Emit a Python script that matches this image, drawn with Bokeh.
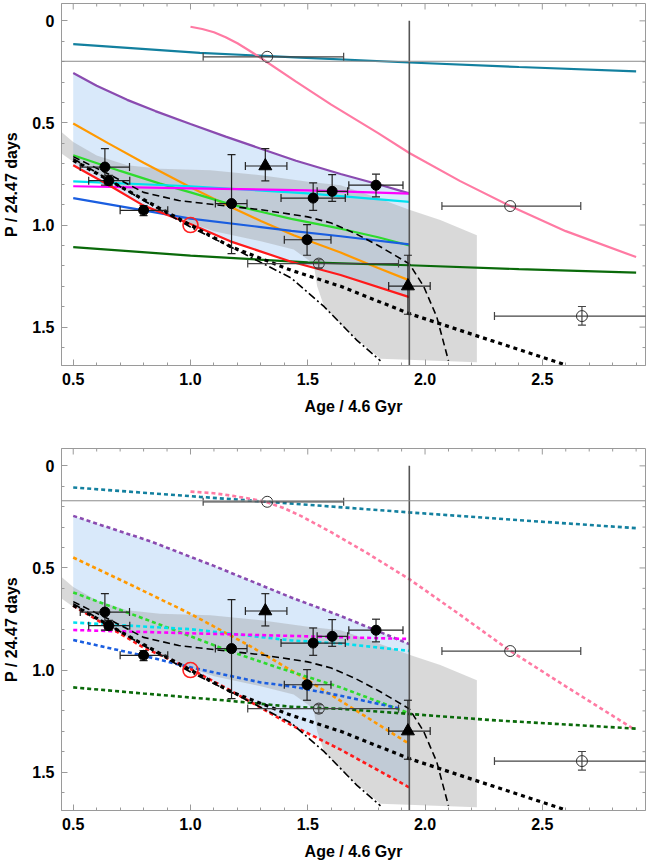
from bokeh.plotting import figure
from bokeh.layouts import column
from bokeh.models import (Range1d, SingleIntervalTicker, Span, PrintfTickFormatter)
from bokeh.embed import file_html
from bokeh.resources import INLINE
import math

# ---------------- data ----------------
# filled circles (stars with rotation periods)
obs_age = [0.635, 0.652, 0.80, 1.175, 1.523, 1.604, 1.791, 1.497]
obs_p = [0.716, 0.783, 0.928, 0.895, 0.868, 0.835, 0.805, 1.072]
obs_age_lo = [0.53, 0.566, 0.70, 1.106, 1.386, 1.54, 1.675, 1.40]
obs_age_hi = [0.74, 0.741, 0.903, 1.241, 1.66, 1.67, 1.906, 1.599]
obs_p_lo = [0.626, 0.757, 0.905, 0.655, 0.794, 0.753, 0.751, 0.998]
obs_p_hi = [0.805, 0.805, 0.954, 1.14, 0.928, 0.884, 0.862, 1.148]

# filled triangles
tri_age = [1.319, 1.927]
tri_p = [0.711, 1.299]
tri_age_lo = [1.234, 1.845]
tri_age_hi = [1.411, 2.022]
tri_p_lo = [0.626, 1.148]
tri_p_hi = [0.784, 1.437]

# open circles
open_age = [1.327, 2.363, 1.547, 2.669]
open_p = [0.176, 0.907, 1.189, 1.446]
open_age_lo = [1.054, 2.072, 1.244, 2.296]
open_age_hi = [1.653, 2.664, 1.887, 3.04]
open_p_lo = [None, None, 1.17, 1.399]
open_p_hi = [None, None, 1.21, 1.49]

# the Sun
sun_age = [1.0]
sun_p = [1.0]

vline_age = 1.933
hline_top = 0.198
hline_bottom = 0.171

# ---- model curves, top panel (solid) ----
teal_x = [0.5, 1.04, 1.47, 1.933, 2.4, 2.9]
teal_y = [0.114, 0.157, 0.18, 0.204, 0.226, 0.247]
pink_x = [1.0, 1.05, 1.1, 1.15, 1.2, 1.25, 1.3, 1.45, 1.6, 1.8, 1.933, 2.15, 2.363, 2.6, 2.9]
pink_y = [0.029, 0.040, 0.056, 0.080, 0.110, 0.145, 0.182, 0.298, 0.41, 0.55, 0.647, 0.785,
          0.907, 1.03, 1.157]
purple_x = [0.5, 0.6, 0.73, 0.85, 1.0, 1.15, 1.3, 1.45, 1.64, 1.8, 1.933]
purple_y = [0.255, 0.318, 0.387, 0.442, 0.505, 0.567, 0.626, 0.685, 0.75, 0.80, 0.845]
orange_x = [0.5, 0.65, 0.8, 1.0, 1.16, 1.3, 1.44, 1.64, 1.8, 1.933]
orange_y = [0.503, 0.60, 0.695, 0.815, 0.905, 0.98, 1.05, 1.135, 1.21, 1.271]
green_x = [0.5, 0.7, 0.87, 1.0, 1.16, 1.3, 1.43, 1.64, 1.8, 1.933]
green_y = [0.658, 0.735, 0.797, 0.84, 0.895, 0.935, 0.97, 1.018, 1.06, 1.10]
blue_x = [0.5, 0.8, 1.0, 1.3, 1.43, 1.64, 1.933]
blue_y = [0.868, 0.928, 0.969, 1.01, 1.029, 1.055, 1.095]
cyan_x = [0.5, 1.0, 1.5, 1.933]
cyan_y = [0.786, 0.81, 0.845, 0.887]
magenta_x = [0.5, 1.0, 1.5, 1.933]
magenta_y = [0.81, 0.82, 0.83, 0.846]
red_x = [0.5, 0.66, 0.8, 1.0, 1.17, 1.43, 1.64, 1.933]
red_y = [0.707, 0.81, 0.905, 0.995, 1.08, 1.18, 1.245, 1.353]
dkgreen_x = [0.5, 1.0, 1.5, 1.933, 2.4, 2.9]
dkgreen_y = [1.108, 1.15, 1.183, 1.197, 1.216, 1.233]

# ---- model curves, bottom panel (dotted) ----
teal2_x = [0.5, 1.04, 1.47, 1.933, 2.4, 2.9]
teal2_y = [0.106, 0.152, 0.188, 0.228, 0.266, 0.305]
pink2_x = [1.0, 1.1, 1.18, 1.26, 1.33, 1.4, 1.47, 1.6, 1.75, 1.933, 2.15, 2.363, 2.6, 2.89]
pink2_y = [0.126, 0.134, 0.147, 0.162, 0.18, 0.208, 0.245, 0.325, 0.425, 0.555, 0.73, 0.906,
           1.08, 1.289]
purple2_x = [0.5, 0.83, 1.1, 1.43, 1.64, 1.933]
purple2_y = [0.245, 0.37, 0.49, 0.645, 0.735, 0.873]
orange2_x = [0.5, 0.75, 1.0, 1.25, 1.5, 1.75, 1.933]
orange2_y = [0.449, 0.585, 0.725, 0.88, 1.05, 1.23, 1.362]
green2_x = [0.5, 0.73, 0.94, 1.16, 1.37, 1.64, 1.933]
green2_y = [0.62, 0.718, 0.808, 0.905, 0.987, 1.085, 1.212]
blue2_x = [0.5, 0.8, 1.0, 1.3, 1.43, 1.64, 1.9]
blue2_y = [0.853, 0.93, 0.987, 1.061, 1.08, 1.126, 1.19]
cyan2_x = [0.5, 1.0, 1.43, 1.64, 1.933]
cyan2_y = [0.767, 0.80, 0.855, 0.87, 0.906]
magenta2_x = [0.5, 1.0, 1.5, 1.933]
magenta2_y = [0.804, 0.82, 0.835, 0.848]
red2_x = [0.5, 0.8, 1.0, 1.17, 1.43, 1.64, 1.933]
red2_y = [0.685, 0.89, 0.995, 1.10, 1.27, 1.39, 1.575]
dkgreen2_x = [0.5, 0.8, 1.16, 1.43, 1.64, 1.933, 2.28, 2.9]
dkgreen2_y = [1.085, 1.115, 1.15, 1.18, 1.19, 1.215, 1.245, 1.287]

# ---- black reference curves (both panels) ----
dash_x = [0.5, 0.65, 0.8, 0.95, 1.1, 1.3, 1.5, 1.6, 1.7, 1.8, 1.933, 1.994, 2.05, 2.1]
dash_y = [0.665, 0.75, 0.84, 0.88, 0.90, 0.925, 0.96, 0.99, 1.04, 1.10, 1.19, 1.30, 1.45, 1.665]
dot_x = [0.5, 0.8, 1.0, 1.17, 1.43, 1.64, 1.933, 2.28, 2.6]
dot_y = [0.683, 0.875, 1.0, 1.105, 1.222, 1.30, 1.434, 1.565, 1.685]
dashdot_x = [0.5, 0.8, 1.0, 1.2, 1.43, 1.57, 1.71, 1.81]
dashdot_y = [0.675, 0.88, 1.01, 1.124, 1.26, 1.40, 1.565, 1.665]

# ---- grey uncertainty region ----
gray_x = [0.45, 0.5, 0.6, 0.73, 0.87, 1.085, 1.3, 1.51, 1.64, 1.78, 1.933, 2.065, 2.221,
          2.221, 1.81, 1.67, 1.57, 1.54, 1.525, 1.44, 1.3, 1.1, 1.0, 0.8, 0.6, 0.5, 0.45]
gray_y = [0.544, 0.593, 0.66, 0.707, 0.724, 0.732, 0.756, 0.789, 0.805, 0.86, 0.925, 0.975, 1.05,
          1.672, 1.655, 1.52, 1.40, 1.30, 1.19, 1.12, 1.08, 1.03, 0.99, 0.88, 0.75, 0.69, 0.65]

# ---------------- style ----------------
FONT = "Liberation Sans"
FRAME = "#9a9a9a"
C = dict(teal="#13809f", pink="#ff7aa3", purple="#8a4bb0", orange="#ff9900",
         green="#2edb2e", blue="#1a5ee0", cyan="#00e0f0", magenta="#ff00ff",
         red="#ff1a1a", dkgreen="#0a6a0a")

X_RANGE = (0.45, 2.94)
Y_RANGE = (1.688, -0.085)
FRAME_W = 646 - 61 - 1
FRAME_H = 362
DX_PX = (X_RANGE[1] - X_RANGE[0]) / FRAME_W
DY_PX = (Y_RANGE[0] - Y_RANGE[1]) / FRAME_H
X_TICKS = [round(0.5 + 0.1 * i, 2) for i in range(25)]
Y_TICKS = [round(0.1 * i, 2) for i in range(17)]


def style_axis(ax):
    ax.ticker = SingleIntervalTicker(interval=0.5, num_minor_ticks=5)
    ax.axis_line_color = FRAME
    ax.major_tick_line_color = FRAME
    ax.minor_tick_line_color = FRAME
    ax.major_tick_in = 6
    ax.major_tick_out = 0
    ax.minor_tick_in = 3
    ax.minor_tick_out = 0
    ax.major_label_text_font = FONT
    ax.major_label_text_font_size = "16px"
    ax.major_label_text_font_style = "bold"
    ax.major_label_text_color = "black"
    ax.axis_label_text_font = FONT
    ax.axis_label_text_font_size = "16px"
    ax.axis_label_text_font_style = "bold"
    ax.axis_label_text_color = "black"
    ax.formatter = PrintfTickFormatter(format="%.1f")


def make_panel(height, top_border, bottom_border, curves, style, band_upper, band_lower, hline):
    p = figure(width=646, height=height, output_backend="svg", toolbar_location=None,
               x_range=Range1d(*X_RANGE), y_range=Range1d(*Y_RANGE),
               min_border_left=61, min_border_right=1, min_border_top=top_border,
               min_border_bottom=bottom_border)
    p.xgrid.visible = False
    p.ygrid.visible = False
    p.outline_line_color = FRAME
    p.background_fill_color = "white"

    style_axis(p.xaxis[0])
    style_axis(p.yaxis[0])
    p.xaxis[0].axis_label = "Age / 4.6 Gyr"
    p.yaxis[0].axis_label = "P / 24.47 days"
    p.xaxis[0].major_label_standoff = 7
    p.xaxis[0].axis_label_standoff = 10
    p.yaxis[0].major_label_standoff = 7
    p.yaxis[0].axis_label_standoff = 9
    p.yaxis[0].major_label_overrides = {0: "0"}

    # inward ticks on the top and right frame edges
    tx, ty0, ty1 = [], [], []
    for t in X_TICKS:
        major = abs(t * 2 - round(t * 2)) < 1e-6
        tx.append(t)
        ty0.append(Y_RANGE[1])
        ty1.append(Y_RANGE[1] + (6 if major else 3) * DY_PX)
    p.segment(x0=tx, y0=ty0, x1=tx, y1=ty1, line_color=FRAME, line_width=1)
    ry, rx0, rx1 = [], [], []
    for t in Y_TICKS:
        major = abs(t * 2 - round(t * 2)) < 1e-6
        ry.append(t)
        rx0.append(X_RANGE[1])
        rx1.append(X_RANGE[1] - (6 if major else 3) * DX_PX)
    p.segment(x0=rx0, y0=ry, x1=rx1, y1=ry, line_color=FRAME, line_width=1)

    # shaded regions
    bx = list(band_upper[0]) + list(band_lower[0])[::-1]
    by = list(band_upper[1]) + list(band_lower[1])[::-1]
    p.patch(bx, by, fill_color="#d9e9fa", line_color=None)
    p.patch(gray_x, gray_y, fill_color="#9a9a9a", fill_alpha=0.38, line_color=None)

    p.add_layout(Span(location=hline, dimension="width", line_color="#8c8c8c", line_width=1))

    # colored model curves
    for name, (xs, ys) in curves:
        if style == "solid":
            p.line(xs, ys, line_color=C[name], line_width=2.2)
        else:
            p.line(xs, ys, line_color=C[name], line_width=2.6, line_dash="4 3")

    # black curves
    p.line(dash_x, dash_y, line_color="black", line_width=1.6, line_dash="7 4")
    p.line(dot_x, dot_y, line_color="black", line_width=3.2, line_dash="4 4")
    p.line(dashdot_x, dashdot_y, line_color="black", line_width=1.6, line_dash="8 3 2 3")

    p.segment(x0=[vline_age], y0=[0.0], x1=[vline_age], y1=[Y_RANGE[0] + 0.05],
              line_color="#555555", line_width=1.6)

    # error bars (segments + cap markers)
    def xerr(xs, ys, lo, hi, color):
        p.segment(x0=lo, y0=ys, x1=hi, y1=ys, line_color=color, line_width=1.2)
        p.scatter(lo + hi, ys + ys, marker="dash", size=8, angle=math.pi / 2,
                  line_color=color, line_width=1.2)

    def yerr(xs, lo, hi, color):
        p.segment(x0=xs, y0=lo, x1=xs, y1=hi, line_color=color, line_width=1.2)
        p.scatter(xs + xs, lo + hi, marker="dash", size=8, line_color=color, line_width=1.2)

    xerr(obs_age, obs_p, obs_age_lo, obs_age_hi, "#222222")
    yerr(obs_age, obs_p_lo, obs_p_hi, "#222222")
    xerr(tri_age, tri_p, tri_age_lo, tri_age_hi, "#222222")
    yerr(tri_age, tri_p_lo, tri_p_hi, "#222222")
    xerr(open_age, open_p, open_age_lo, open_age_hi, "#444444")
    idx = [i for i, v in enumerate(open_p_lo) if v is not None]
    yerr([open_age[i] for i in idx], [open_p_lo[i] for i in idx],
         [open_p_hi[i] for i in idx], "#444444")

    p.scatter(obs_age, obs_p, marker="circle", size=10, fill_color="black", line_color="black")
    p.scatter(tri_age, tri_p, marker="triangle", size=13, fill_color="black", line_color="black")
    p.scatter(open_age, open_p, marker="circle", size=11, fill_color=None,
              line_color="#333333", line_width=1)
    p.scatter(sun_age, sun_p, marker="circle", size=15, fill_color=None, line_color="#ff2020",
              line_width=1.6)
    return p


top_curves = [("teal", (teal_x, teal_y)), ("pink", (pink_x, pink_y)),
              ("purple", (purple_x, purple_y)), ("orange", (orange_x, orange_y)),
              ("green", (green_x, green_y)), ("cyan", (cyan_x, cyan_y)),
              ("magenta", (magenta_x, magenta_y)), ("blue", (blue_x, blue_y)),
              ("dkgreen", (dkgreen_x, dkgreen_y)), ("red", (red_x, red_y))]
bottom_curves = [("teal", (teal2_x, teal2_y)), ("pink", (pink2_x, pink2_y)),
                 ("purple", (purple2_x, purple2_y)), ("orange", (orange2_x, orange2_y)),
                 ("green", (green2_x, green2_y)), ("cyan", (cyan2_x, cyan2_y)),
                 ("magenta", (magenta2_x, magenta2_y)), ("blue", (blue2_x, blue2_y)),
                 ("dkgreen", (dkgreen2_x, dkgreen2_y)), ("red", (red2_x, red2_y))]

p1 = make_panel(430, 3, 65, top_curves, "solid", (purple_x, purple_y),
                (red_x, red_y), hline_top)
p2 = make_panel(435, 18, 55, bottom_curves, "dotted", (purple2_x, purple2_y),
                (red2_x, red2_y), hline_bottom)

layout = column(p1, p2, spacing=0)
open("out.html", "w").write(file_html(layout, INLINE))
